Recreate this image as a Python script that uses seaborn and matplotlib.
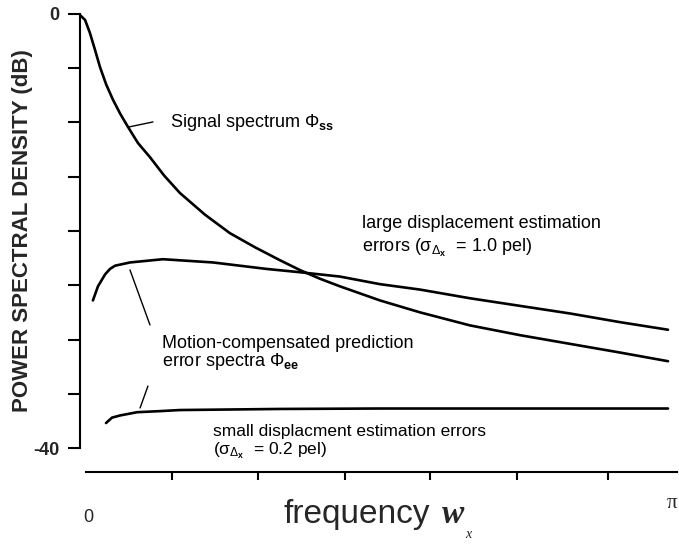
import numpy as np
import pandas as pd
import seaborn as sns
import matplotlib.pyplot as plt

# frequency (0..pi) and power spectral density (dB)
freq_signal = [0.000, 0.027, 0.053, 0.080, 0.107, 0.140, 0.176, 0.215, 0.256, 0.310,
               0.374, 0.450, 0.534, 0.668, 0.801, 0.935, 1.069, 1.175, 1.282, 1.389,
               1.603, 1.817, 2.084, 2.351, 2.618, 2.885, 3.142]
db_signal = [-0.1, -0.55, -1.75, -3.3, -4.9, -6.5, -7.9, -9.2, -10.4, -11.9,
             -13.2, -14.9, -16.5, -18.5, -20.2, -21.5, -22.7, -23.6, -24.4, -25.1,
             -26.4, -27.5, -28.7, -29.6, -30.4, -31.2, -32.0]

freq_large = [0.069, 0.096, 0.134, 0.160, 0.187, 0.267, 0.443, 0.711, 0.999, 1.175,
              1.389, 1.603, 1.817, 2.084, 2.351, 2.618, 2.885, 3.142]
db_large = [-26.4, -25.1, -24.0, -23.5, -23.2, -22.9, -22.6, -22.9, -23.5, -23.8,
            -24.2, -24.9, -25.4, -26.2, -26.9, -27.6, -28.4, -29.1]

freq_small = [0.139, 0.171, 0.214, 0.305, 0.427, 0.534, 0.801, 1.069, 1.603,
              2.137, 2.671, 3.142]
db_small = [-37.7, -37.2, -37.0, -36.7, -36.6, -36.5, -36.45, -36.4, -36.36,
            -36.36, -36.36, -36.36]

ytick_values = [0, -5, -10, -15, -20, -25, -30, -35, -40]
ytick_labels = ['0', '', '', '', '', '', '', '', '-40']
xtick_values = [0.492, 0.951, 1.416, 1.870, 2.335, 2.821]

sns.set_style('white')
plt.rcParams['font.family'] = ['Liberation Sans', 'DejaVu Sans']
plt.rcParams['mathtext.fontset'] = 'custom'
plt.rcParams['mathtext.rm'] = 'Liberation Sans'
plt.rcParams['mathtext.it'] = 'Liberation Sans:italic'
plt.rcParams['mathtext.bf'] = 'Liberation Sans:bold'

W, H = 679, 548
fig = plt.figure(figsize=(W / 100, H / 100), dpi=100)
ax = fig.add_axes([80 / W, 1 - 472 / H, 597 / W, 464 / H])

for fx, fy in [(freq_signal, db_signal), (freq_large, db_large), (freq_small, db_small)]:
    sns.lineplot(x=fx, y=fy, ax=ax, color='black', linewidth=1.9, sort=False,
                 estimator=None)

ax.set_xlim(0, 3.19)
ax.set_ylim(-42.21, 0.55)

for s in ['top', 'right']:
    ax.spines[s].set_visible(False)
ax.spines['left'].set_bounds(-40, 0)
ax.spines['bottom'].set_bounds(0.032, 3.19)
for s in ['left', 'bottom']:
    ax.spines[s].set_linewidth(1.5)
    ax.spines[s].set_color('black')

ax.set_yticks(ytick_values)
ax.set_yticklabels(ytick_labels, fontsize=13, fontweight='bold')
ax.tick_params(axis='y', left=True, direction='out', length=9, width=1.5,
               color='black', pad=6)
ax.set_xticks(xtick_values)
ax.set_xticklabels([''] * len(xtick_values))
ax.tick_params(axis='x', bottom=True, direction='out', length=6, width=1.5,
               color='black')

ax.set_ylabel('POWER SPECTRAL DENSITY (dB)', fontsize=16, fontweight='bold')
ax.yaxis.set_label_coords(-0.079, 0.52)

# annotations
txt = dict(fontsize=13, color='black', va='baseline', ha='left')
ax.text(0.481, -10.41, r'Signal spectrum $\Phi_{\mathbf{ss}}$', **txt)
ax.plot([0.262, 0.390], [-10.41, -9.95], color='black', lw=1)

ax.text(1.507, -19.72, 'large displacement estimation', **txt)
ax.text(1.507, -21.94, r'errors ($\mathrm{\sigma}_{\Delta_{\mathbf{x}}}$  = 1.0 pel)', **txt)

ax.text(0.438, -30.78, 'Motion-compensated prediction', **txt)
ax.text(0.438, -32.45, r'error spectra $\Phi_{\mathbf{ee}}$', **txt)
ax.plot([0.267, 0.374], [-23.59, -28.66], color='black', lw=1)
ax.plot([0.363, 0.321], [-34.29, -36.31], color='black', lw=1)

small = dict(txt, fontsize=12.5)
ax.text(0.711, -38.85, 'small displacment estimation errors', **small)
ax.text(0.711, -40.6, r'($\mathrm{\sigma}_{\Delta_{\mathbf{x}}}$  = 0.2 pel)', **small)

# x axis labels
fig.text(88 / W, 1 - 517 / H, '0', fontsize=13, ha='center', va='center')
fig.text(672 / W, 1 - 503 / H, 'π', fontsize=15, ha='center', va='center',
         family=['Liberation Serif', 'DejaVu Serif'])
fig.text(283 / W, 1 - 523 / H, 'frequency', fontsize=24, ha='left', va='baseline')
fig.text(442 / W, 1 - 523 / H, 'w', fontsize=24, ha='left', va='baseline',
         family=['Liberation Serif', 'DejaVu Serif'], fontweight='bold', style='italic')
fig.text(465 / W, 1 - 538 / H, 'x', fontsize=10, ha='left', va='baseline',
         family=['Liberation Serif', 'DejaVu Serif'], style='italic')

fig.savefig('out.png', dpi=100)
